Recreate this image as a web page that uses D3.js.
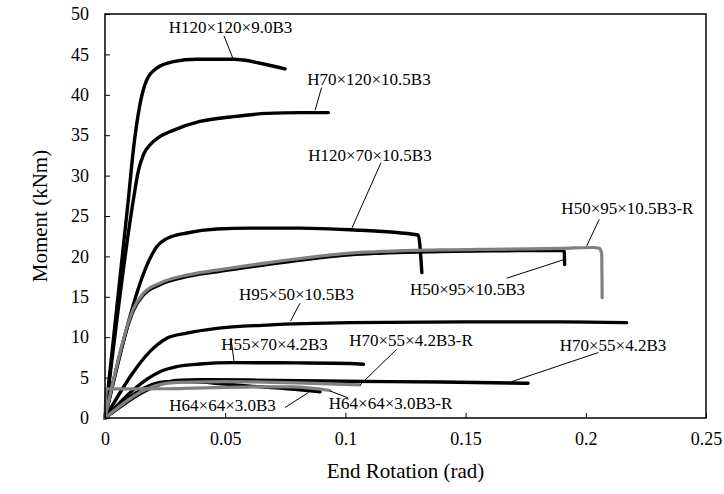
<!DOCTYPE html>
<meta charset="utf-8">
<head>
  <title>Moment - end rotation</title>
</head>

<style>
  body { margin: 0; background: #fff; }
  text { font-family: "Liberation Serif", "Times New Roman", serif; fill: #000; }
</style>

<body>
  <div id="content">
    <svg width="724" height="494"></svg>
  </div>

  <script src="https://cdnjs.cloudflare.com/ajax/libs/d3/7.8.5/d3.min.js"></script>

  <script>
  // curves: [rotation (rad), moment (kNm)]
  var h120x120 = [[0,0],[0.0097,27],[0.0118,33.2],[0.0146,38.9],[0.0173,41.8],[0.0215,43.3],[0.0284,44.1],
    [0.0381,44.4],[0.0534,44.4],[0.0575,44.3],[0.0645,43.9],[0.0749,43.2]];
  var h70x120 = [[0,0],[0.0118,27],[0.0138,30.5],[0.016,32.6],[0.019,33.9],[0.0222,34.7],[0.0284,35.6],
    [0.0395,36.7],[0.0534,37.3],[0.0673,37.7],[0.0811,37.8],[0.0929,37.8]];
  var h120x70 = [[0,0],[0.0195,20.2],[0.0215,21.2],[0.0257,22.2],[0.034,22.9],[0.0465,23.4],[0.0603,23.5],
    [0.0811,23.5],[0.1019,23.3],[0.1303,22.65],[0.1318,18.0]];
  var h50x95 = [[0,0],[0.0105,12.3],[0.0118,13.3],[0.0159,15.2],[0.0229,16.5],[0.0326,17.4],[0.0465,18.1],
    [0.0673,19.0],[0.1019,20.2],[0.1393,20.6],[0.1671,20.7],[0.191,20.75],[0.1912,19.0]];
  var h50x95R = [[0,0],[0.0105,12.5],[0.0118,13.5],[0.0159,15.4],[0.0229,16.7],[0.0326,17.6],[0.0465,18.3],
    [0.0673,19.2],[0.1019,20.4],[0.1393,20.8],[0.1671,20.9],[0.1906,21.0],[0.2031,21.1],[0.2055,21.0],
    [0.2066,20.4],[0.2068,14.9]];
  var h95x50 = [[0,0],[0.0215,9.0],[0.0257,9.86],[0.034,10.5],[0.0465,11.1],[0.0673,11.5],[0.1019,11.8],
    [0.15,11.9],[0.19,11.9],[0.217,11.8]];
  var h55x70 = [[0,0],[0.0229,5.73],[0.0298,6.35],[0.0395,6.68],[0.0534,6.85],[0.08,6.82],[0.1019,6.75],
    [0.1075,6.65]];
  var h70x55 = [[0,0],[0.0243,4.3],[0.0298,4.65],[0.04,4.75],[0.06,4.7],[0.1,4.55],[0.14,4.45],[0.176,4.3]];
  var h70x55R = [[0,0],[0.02,3.9],[0.03,4.4],[0.05,4.5],[0.08,4.35],[0.106,4.1]];
  var h64x64 = [[0,0],[0.0257,4.5],[0.035,4.5],[0.05,4.2],[0.0603,3.95],[0.0811,3.5],[0.0894,3.25]];
  var h64x64R = [[0,0],[0.0006,3.6],[0.025,3.62],[0.045,3.75],[0.065,3.85],[0.078,3.85],[0.0936,3.4]];

  var blackCurves = [h120x120, h70x120, h120x70, h50x95, h95x50, h55x70, h70x55, h64x64];
  var grayCurves = [h70x55R, h64x64R, h50x95R];

  var xTicks = [0, 0.05, 0.1, 0.15, 0.2, 0.25];
  var yTicks = [0, 5, 10, 15, 20, 25, 30, 35, 40, 45, 50];

  // callouts: label centre and leader line, in data units
  var callouts = [
    {t: 'H120×120×9.0B3',   x: 0.0522, y: 48.4, l: [0.0495, 47.3, 0.0532, 44.5]},
    {t: 'H70×120×10.5B3',   x: 0.1098, y: 42.0, l: [0.0901, 40.9, 0.0874, 38.1]},
    {t: 'H120×70×10.5B3',   x: 0.1102, y: 32.6, l: [0.1148, 31.6, 0.1027, 23.5]},
    {t: 'H50×95×10.5B3-R',  x: 0.2173, y: 26.0, l: [0.2056, 24.6, 0.2004, 21.3]},
    {t: 'H50×95×10.5B3',    x: 0.1508, y: 16.0, l: [0.1671, 17.3, 0.1909, 19.6]},
    {t: 'H95×50×10.5B3',    x: 0.0797, y: 15.4, l: [0.0811, 14.2, 0.0772, 12.0]},
    {t: 'H55×70×4.2B3',     x: 0.0705, y: 9.2,  l: [0.0524, 9.9, 0.0537, 6.9]},
    {t: 'H70×55×4.2B3-R',   x: 0.1273, y: 9.6,  l: [0.1213, 8.5, 0.1061, 4.1]},
    {t: 'H70×55×4.2B3',     x: 0.2113, y: 9.0,  l: [0.2052, 8.1, 0.1692, 4.5]},
    {t: 'H64×64×3.0B3',     x: 0.0489, y: 1.55, l: [0.0749, 1.3, 0.0846, 3.15]},
    {t: 'H64×64×3.0B3-R',   x: 0.1188, y: 1.8,  l: [0.0936, 3.35, 0.1011, 2.5]}
  ];

  var margin = {top: 14, right: 18, bottom: 76, left: 105};
  var width = 724 - margin.left - margin.right,
      height = 494 - margin.top - margin.bottom;

  var svg = d3.select('svg');
  var g = svg.append('g').attr('transform', 'translate(' + margin.left + ',' + margin.top + ')');

  var x = d3.scaleLinear().domain([0, 0.25]).range([0, width]);
  var y = d3.scaleLinear().domain([0, 50]).range([height, 0]);

  var line = d3.line()
    .curve(d3.curveMonotoneX)
    .x(function(d) { return x(d[0]); })
    .y(function(d) { return y(d[1]); });

  g.selectAll('.black')
    .data(blackCurves)
    .enter().append('path')
    .attr('class', 'black')
    .attr('d', line)
    .attr('fill', 'none')
    .attr('stroke', '#000')
    .attr('stroke-width', 3.4)
    .attr('stroke-linejoin', 'round')
    .attr('stroke-linecap', 'round');

  g.selectAll('.gray')
    .data(grayCurves)
    .enter().append('path')
    .attr('class', 'gray')
    .attr('d', line)
    .attr('fill', 'none')
    .attr('stroke', '#808080')
    .attr('stroke-width', 3.2)
    .attr('stroke-linejoin', 'round')
    .attr('stroke-linecap', 'round');

  // axes, ticks point inward
  var xAxis = g.append('g')
    .attr('transform', 'translate(0,' + height + ')')
    .call(d3.axisBottom(x).tickValues(xTicks).tickSizeInner(-5).tickSizeOuter(0).tickPadding(14)
      .tickFormat(function(d) { return d === 0 ? '0' : String(d); }));
  var yAxis = g.append('g')
    .call(d3.axisLeft(y).tickValues(yTicks).tickSizeInner(-5).tickSizeOuter(0).tickPadding(16));

  [xAxis, yAxis].forEach(function(a) {
    a.select('.domain').remove();
    a.selectAll('line').attr('stroke', '#000').attr('stroke-width', 1);
    a.selectAll('text').style('font-family', '"Liberation Serif", serif').style('font-size', '18px').attr('fill', '#000');
  });

  g.append('rect')
    .attr('width', width).attr('height', height)
    .attr('fill', 'none').attr('stroke', '#000').attr('stroke-width', 1.5);

  // callouts
  var c = g.selectAll('.callout').data(callouts).enter().append('g').attr('class', 'callout');
  c.append('line')
    .attr('x1', function(d) { return x(d.l[0]); })
    .attr('y1', function(d) { return y(d.l[1]); })
    .attr('x2', function(d) { return x(d.l[2]); })
    .attr('y2', function(d) { return y(d.l[3]); })
    .attr('stroke', '#000').attr('stroke-width', 1);
  c.append('text')
    .attr('x', function(d) { return x(d.x); })
    .attr('y', function(d) { return y(d.y); })
    .attr('dy', '0.35em')
    .attr('text-anchor', 'middle')
    .style('font-size', '17px')
    .text(function(d) { return d.t; });

  svg.append('text')
    .attr('x', margin.left + width / 2)
    .attr('y', 478)
    .attr('text-anchor', 'middle')
    .style('font-size', '21px')
    .text('End Rotation (rad)');

  svg.append('text')
    .attr('transform', 'translate(47,' + (margin.top + height / 2) + ') rotate(-90)')
    .attr('text-anchor', 'middle')
    .style('font-size', '21px')
    .text('Moment (kNm)');
  </script>
</body>
</html>
